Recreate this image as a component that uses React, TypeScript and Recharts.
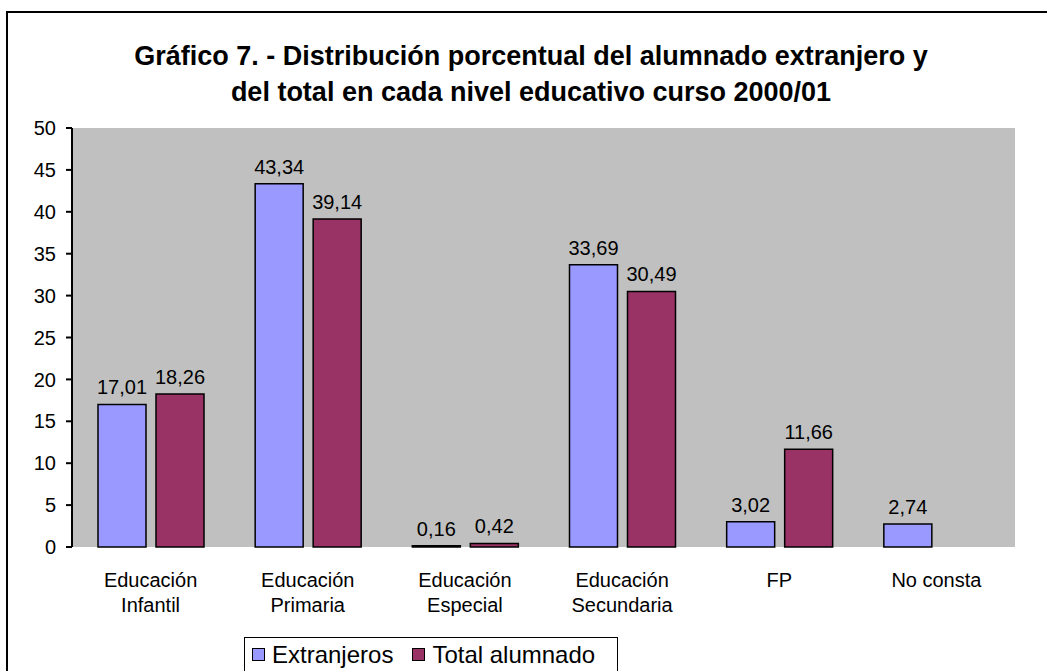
import React from "react";
import {
  BarChart,
  Bar,
  XAxis,
  YAxis,
  CartesianGrid,
  LabelList,
} from "recharts";

const categories = [
  "Educación\nInfantil",
  "Educación\nPrimaria",
  "Educación\nEspecial",
  "Educación\nSecundaria",
  "FP",
  "No consta",
];
const extranjeros = [17.01, 43.34, 0.16, 33.69, 3.02, 2.74];
const totalAlumnado: (number | null)[] = [18.26, 39.14, 0.42, 30.49, 11.66, null];
const yTicks = [0, 5, 10, 15, 20, 25, 30, 35, 40, 45, 50];
const boundaryTicks = [0, 1, 2, 3, 4, 5, 6];
const seriesNames = ["Extranjeros", "Total alumnado"];

const data = categories.map((c, i) => ({
  name: c,
  idx: i + 0.5,
  extranjeros: extranjeros[i],
  total: totalAlumnado[i],
}));

const FONT = "Arial, 'Liberation Sans', sans-serif";
const BLUE = "#9999FF";
const MAROON = "#993366";

const fmt = (v: any) =>
  v === null || v === undefined ? "" : Number(v).toFixed(2).replace(".", ",");

function CategoryTick(props: any) {
  const { x, y, payload } = props;
  const lines = String(payload.value).split("\n");
  return (
    <text x={x} y={y} textAnchor="middle" fontSize={20} fill="#000" fontFamily={FONT}>
      {lines.map((l: string, i: number) => (
        <tspan key={i} x={x} dy={i === 0 ? 32 : 25}>
          {l}
        </tspan>
      ))}
    </text>
  );
}

function LegendBox() {
  const colors = [BLUE, MAROON];
  return (
    <div
      style={{
        position: "absolute",
        left: 244,
        top: 637,
        width: 374,
        height: 60,
        boxSizing: "border-box",
        border: "1.5px solid #000",
        background: "#fff",
        padding: "4px 0 0 7px",
        display: "flex",
        alignItems: "flex-start",
        fontFamily: FONT,
        fontSize: 24,
        lineHeight: "26px",
        whiteSpace: "nowrap",
      }}
    >
      {seriesNames.map((label, i) => (
        <span
          key={i}
          style={{ display: "flex", alignItems: "flex-start", marginRight: i === 0 ? 19 : 0 }}
        >
          <span
            style={{
              display: "inline-block",
              width: 11,
              height: 11,
              marginTop: 6,
              background: colors[i],
              border: "1.5px solid #000",
              marginRight: 7,
            }}
          />
          {label}
        </span>
      ))}
    </div>
  );
}

export default function App() {
  return (
    <div
      style={{
        position: "absolute",
        left: 0,
        top: 0,
        width: 1047,
        height: 671,
        overflow: "hidden",
        background: "#fff",
        fontFamily: FONT,
      }}
    >
      <div
        style={{
          position: "absolute",
          left: 6,
          top: 11,
          width: 1060,
          height: 700,
          border: "2px solid #000",
          boxSizing: "border-box",
        }}
      />
      <div
        style={{
          position: "absolute",
          left: 0,
          top: 38,
          width: 1062,
          textAlign: "center",
          fontWeight: "bold",
          fontSize: 27,
          lineHeight: "36px",
          color: "#000",
        }}
      >
        Gráfico 7. - Distribución porcentual del alumnado extranjero y
        <br />
        del total en cada nivel educativo curso 2000/01
      </div>
      <div style={{ position: "absolute", left: 0, top: 0 }}>
        <BarChart
          width={1047}
          height={671}
          data={data}
          margin={{ top: 128, right: 32, bottom: 0, left: 0 }}
          barCategoryGap={26}
          barGap={10}
        >
          <CartesianGrid fill="#C0C0C0" horizontal={false} vertical={false} />
          <XAxis
            xAxisId="top"
            orientation="top"
            dataKey="name"
            height={0}
            tick={false}
            tickLine={false}
            axisLine={{ stroke: "#808080", strokeWidth: 2 }}
          />
          <YAxis
            yAxisId="right"
            orientation="right"
            width={0}
            tick={false}
            tickLine={false}
            domain={[0, 50]}
            axisLine={{ stroke: "#808080", strokeWidth: 2 }}
          />
          <XAxis
            xAxisId="bounds"
            type="number"
            dataKey="idx"
            domain={[0, 6]}
            ticks={boundaryTicks}
            tick={false}
            height={0}
            tickSize={7}
            axisLine={{ stroke: "#000", strokeWidth: 2 }}
            tickLine={{ stroke: "#000", strokeWidth: 2 }}
            allowDataOverflow
          />
          <XAxis
            dataKey="name"
            interval={0}
            axisLine={false}
            tickLine={false}
            height={124}
            tick={<CategoryTick />}
          />
          <YAxis
            domain={[0, 50]}
            ticks={yTicks}
            interval={0}
            width={72}
            tickSize={6}
            tickMargin={10}
            axisLine={{ stroke: "#000", strokeWidth: 2 }}
            tickLine={{ stroke: "#000", strokeWidth: 2 }}
            tick={{ fontSize: 20, fill: "#000", fontFamily: FONT }}
          />
          <Bar
            dataKey="extranjeros"
            name={seriesNames[0]}
            fill={BLUE}
            stroke="#000"
            strokeWidth={1.5}
            isAnimationActive={false}
          >
            <LabelList
              dataKey="extranjeros"
              position="top"
              offset={10}
              formatter={fmt}
              style={{ fontSize: 20, fill: "#000", fontFamily: FONT }}
            />
          </Bar>
          <Bar
            dataKey="total"
            name={seriesNames[1]}
            fill={MAROON}
            stroke="#000"
            strokeWidth={1.5}
            isAnimationActive={false}
          >
            <LabelList
              dataKey="total"
              position="top"
              offset={10}
              formatter={fmt}
              style={{ fontSize: 20, fill: "#000", fontFamily: FONT }}
            />
          </Bar>
        </BarChart>
      </div>
      <LegendBox />
    </div>
  );
}
